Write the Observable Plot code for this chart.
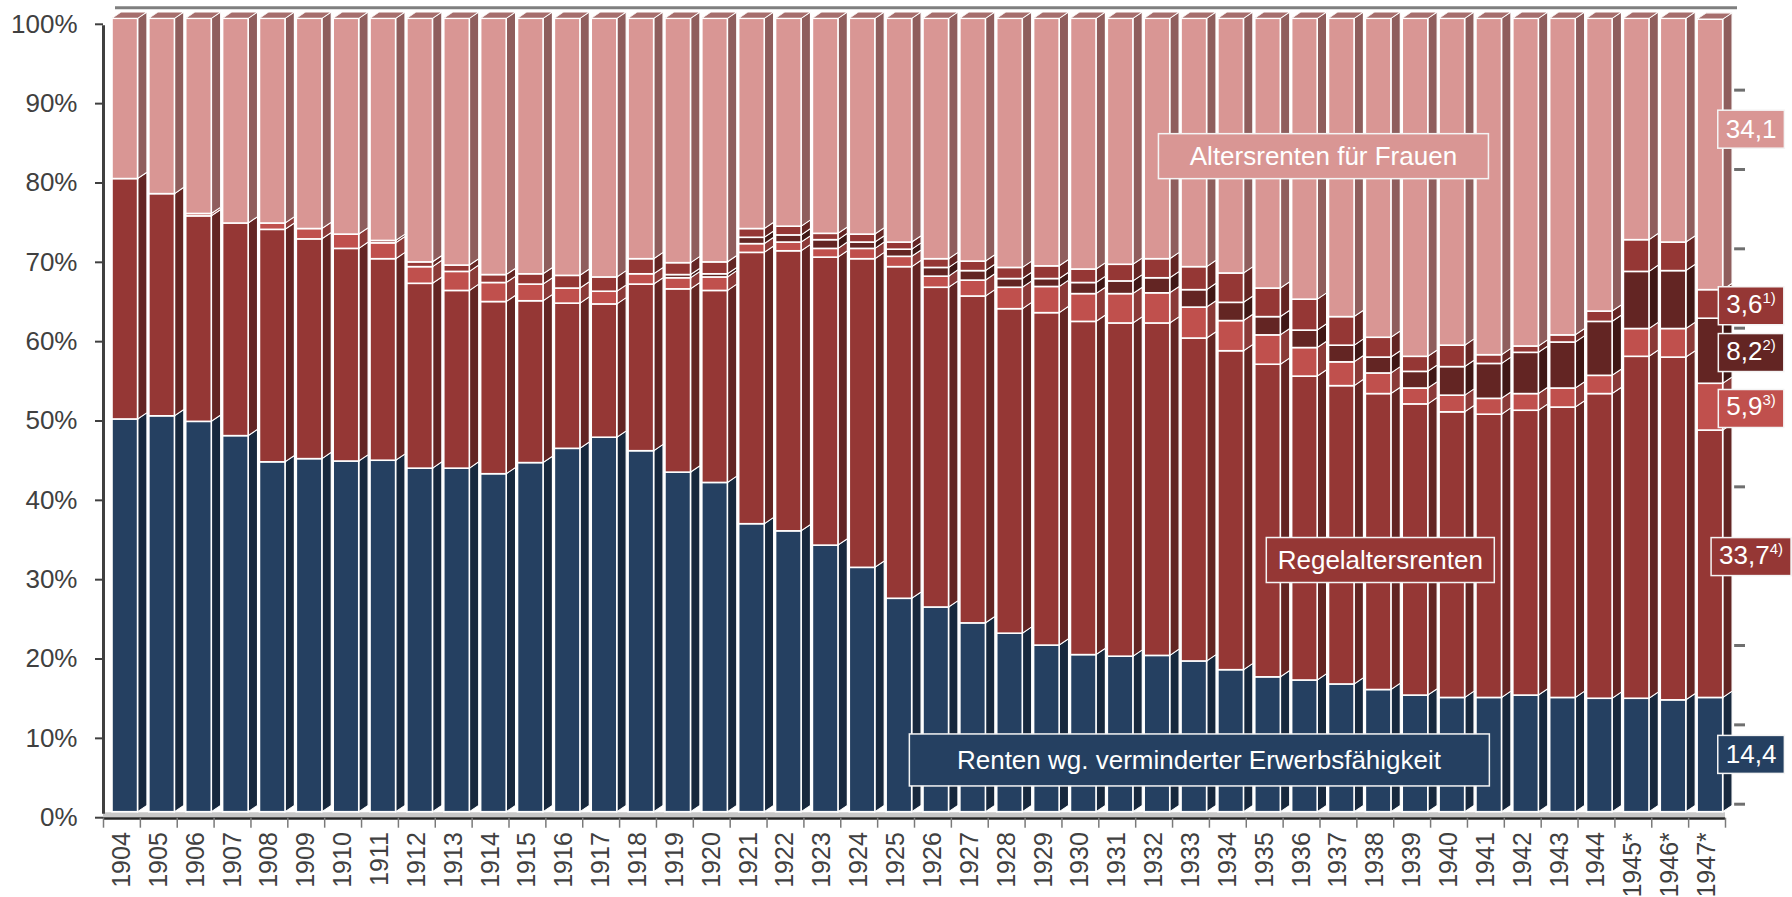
<!DOCTYPE html>
<html>
<head>
<meta charset="utf-8">
<script src="https://cdn.jsdelivr.net/npm/d3@7"></script>
<script src="https://cdn.jsdelivr.net/npm/@observablehq/plot@0.6"></script>
<style>
  body { margin: 0; background: #ffffff; }
  g[aria-description="side"] rect { transform-box: fill-box; transform-origin: 0 0; transform: skewY(-34deg); }
  g[aria-description="top"] rect { transform-box: fill-box; transform-origin: 0 100%; transform: skewX(-56deg); }
</style>
</head>
<body>
<div id="chart"></div>
<script>
// ---- data (shares in %, stacked bottom -> top) ----
const years = ["1904","1905","1906","1907","1908","1909","1910","1911","1912","1913","1914","1915","1916","1917","1918","1919","1920","1921","1922","1923","1924","1925","1926","1927","1928","1929","1930","1931","1932","1933","1934","1935","1936","1937","1938","1939","1940","1941","1942","1943","1944","1945*","1946*","1947*"];
// Renten wg. verminderter Erwerbsfähigkeit
const erwerb = [49.5,49.9,49.2,47.4,44.1,44.5,44.2,44.3,43.3,43.3,42.6,44.0,45.8,47.2,45.5,42.8,41.5,36.3,35.4,33.6,30.8,26.9,25.8,23.8,22.5,21.0,19.8,19.6,19.7,19.0,17.9,17.0,16.6,16.1,15.4,14.7,14.4,14.4,14.7,14.4,14.3,14.3,14.1,14.4];
// Regelaltersrenten
const regel = [30.3,28.0,25.9,26.8,29.3,27.7,26.8,25.4,23.3,22.4,21.7,20.4,18.3,16.8,21.0,23.1,24.2,34.2,35.3,36.3,38.9,41.8,40.3,41.2,40.9,41.9,42.0,42.0,41.9,40.7,40.2,39.4,38.3,37.6,37.3,36.7,36.0,35.7,35.9,36.6,38.4,43.1,43.2,33.7];
// Fußnote 3)
const fn3 = [0,0,0.3,0,0.8,1.3,1.8,2.0,2.1,2.4,2.4,2.1,1.9,1.6,1.3,1.4,1.7,1.1,1.1,1.1,1.3,1.3,1.4,2.0,2.7,3.3,3.5,3.7,3.8,3.9,3.8,3.7,3.6,3.0,2.6,2.0,2.1,2.0,2.1,2.4,2.3,3.5,3.6,5.9];
// Fußnote 2)
const fn2 = [0,0,0,0,0,0,0,0,0,0,0,0,0,0,0,0.4,0.4,0.8,0.9,1.1,0.8,0.9,1.1,1.2,1.1,1.0,1.4,1.6,1.9,2.2,2.3,2.3,2.2,2.1,2.0,2.1,3.6,4.4,5.2,5.8,6.8,7.2,7.3,8.2];
// Fußnote 1)
const fn1 = [0,0,0,0,0,0,0,0.3,0.6,0.8,1.0,1.3,1.6,1.8,1.9,1.5,1.5,1.1,1.1,0.8,1.0,0.9,1.1,1.2,1.4,1.6,1.7,2.1,2.4,2.9,3.7,3.6,3.9,3.6,2.5,1.9,2.7,1.1,0.8,0.9,1.3,4.0,3.6,3.6];
// Altersrenten für Frauen
const frauen = [20.2,22.1,24.6,25.8,25.8,26.5,27.2,28.0,30.7,31.1,32.3,32.2,32.4,32.6,30.3,30.8,30.7,26.5,26.2,27.1,27.2,28.2,30.3,30.6,31.4,31.2,31.6,31.0,30.3,31.3,32.1,34.0,35.4,37.6,40.2,42.6,41.2,42.4,41.3,39.9,36.9,27.9,28.2,34.1];

const yTicks = [0,10,20,30,40,50,60,70,80,90,100];
const seriesKeys = ["erwerb","regel","fn3","fn2","fn1","frauen"];
const seriesValues = {erwerb, regel, fn3, fn2, fn1, frauen};
const seriesNames = {
  erwerb: "Renten wg. verminderter Erwerbsfähigkeit",
  regel: "Regelaltersrenten",
  frauen: "Altersrenten für Frauen"
};
const footnotes = {fn1: "1)", fn2: "2)", fn3: "3)", regel: "4)"};

// ---- styles ----
const frontColors = {erwerb:"#254061", regel:"#953735", fn3:"#c0504d", fn2:"#632523", fn1:"#953735", frauen:"#d99694"};
const sideColors  = {erwerb:"#17283d", regel:"#632523", fn3:"#8a3a38", fn2:"#3f1715", fn1:"#632523", frauen:"#8f5e5d"};

// ---- build stacked table ----
const rows = [];
const totals = [];
years.forEach((yr, i) => {
  let cum = 0;
  for (const k of seriesKeys) {
    const v = seriesValues[k][i];
    if (v > 0) rows.push({year: yr, key: k, y1: cum, y2: cum + v, v});
    cum += v;
  }
  totals.push({year: yr, total: cum});
});

const W = 1792, H = 897;
const mL = 103, mR = 67, mT = 18.3, mB = 85.3;
const bw = (W - mL - mR) / years.length;
const lastYear = years[years.length - 1];
const fmt = v => v.toFixed(1).replace(".", ",");

// right-hand value labels for the last year
const li = years.length - 1;
let cum = 0;
const rightLabels = [];
for (const k of seriesKeys) {
  const v = seriesValues[k][li];
  rightLabels.push({key: k, text: fmt(v), mid: cum + v / 2, sup: footnotes[k] || ""});
  cum += v;
}
const rightDy = {frauen: -25, regel: -9};

// series name labels (annotation anchors)
const nameLabels = [
  {key: "frauen", x: "1937", y: 82.6, dx: -15, w: 330, h: 45},
  {key: "regel",  x: "1938", y: 31.7, dx: 5,   w: 228, h: 45},
  {key: "erwerb", x: "1933", y: 6.5,  dx: 8,   w: 580, h: 52}
];

const labelMarks = [];
const boxSpecs = [];
for (const L of nameLabels) {
  labelMarks.push(Plot.text([L], {x: "x", y: "y", text: d => seriesNames[d.key], dx: L.dx,
    fill: "white", fontSize: 26, ariaDescription: "boxlabel"}));
  boxSpecs.push({bg: frontColors[L.key], w: L.w, h: L.h, sup: ""});
}
for (const R of rightLabels) {
  labelMarks.push(Plot.text([R], {x: () => lastYear, y: "mid", text: "text", dx: 44, dy: rightDy[R.key] || 0,
    fill: "white", fontSize: 26, ariaDescription: "boxlabel"}));
  boxSpecs.push({bg: frontColors[R.key], w: null, h: 38, sup: R.sup});
}

const svg = Plot.plot({
  width: W, height: H,
  marginLeft: mL, marginRight: mR, marginTop: mT, marginBottom: mB,
  style: {fontFamily: "'Liberation Sans', Arial, sans-serif", background: "white", color: "#404040", overflow: "visible"},
  x: {type: "band", domain: years, padding: 0},
  y: {domain: [0, 100]},
  color: {type: "identity"},
  marks: [
    // back wall top edge
    Plot.ruleY([100], {stroke: "#7f7f7f", strokeWidth: 3, dx: 12, dy: -11}),
    // right back-wall ticks
    Plot.tickY(yTicks.slice(0, 10), {x: () => lastYear, y: d => d, stroke: "#6f6f6f", strokeWidth: 3, insetLeft: 26, dx: 20, dy: -8}),
    // floor
    Plot.ruleY([0], {stroke: "#c8c8c8", strokeWidth: 5, dy: 2.5}),
    Plot.ruleY([0], {stroke: "#262626", strokeWidth: 2.6, dy: 6.3}),
    // left axis line
    Plot.ruleX([years[0]], {dx: -bw / 2, y1: 0, y2: 100, insetTop: 2, insetBottom: -7, stroke: "#404040", strokeWidth: 3}),
    // x tick marks at category boundaries
    Plot.ruleX(years, {dx: -bw / 2, y1: 0, y2: 0, insetTop: 6, insetBottom: -16, stroke: "#7a7a7a", strokeWidth: 1.5}),
    Plot.ruleX([lastYear], {dx: bw / 2, y1: 0, y2: 0, insetTop: 6, insetBottom: -16, stroke: "#7a7a7a", strokeWidth: 1.5}),
    // side faces
    Plot.barY(rows, {x: "year", y1: "y1", y2: "y2", fill: d => sideColors[d.key], stroke: "white", strokeWidth: 1.2,
      insetLeft: 34.56, insetRight: -(9.4 - (bw - 34.56)), ariaDescription: "side"}),
    // front faces
    Plot.barY(rows, {x: "year", y1: "y1", y2: "y2", fill: d => frontColors[d.key], stroke: "white", strokeWidth: 1.6,
      insetLeft: 9, insetRight: 2.3, ariaDescription: "front"}),
    // top faces
    Plot.barY(totals, {x: "year", y1: "total", y2: "total", fill: "#a66e6d", stroke: "white", strokeWidth: 1.2,
      insetLeft: 9, insetRight: 2.3, insetTop: -6.3, ariaDescription: "top"}),
    // axes
    Plot.axisY({ticks: yTicks, tickFormat: d => d + "%", tickSize: 8, tickPadding: 18, fontSize: 26, dy: 5.5,
      strokeWidth: 2, color: "#404040", label: null}),
    Plot.axisX({tickRotate: -90, tickSize: 0, tickPadding: 20, fontSize: 25, color: "#404040", label: null}),
    ...labelMarks
  ]
});

document.getElementById("chart").appendChild(svg);

// boxes behind labels + footnote superscripts
const NS = "http://www.w3.org/2000/svg";
const texts = svg.querySelectorAll('g[aria-description="boxlabel"] text');
texts.forEach((t, i) => {
  const spec = boxSpecs[i];
  if (!spec) return;
  if (spec.sup) {
    const ts = document.createElementNS(NS, "tspan");
    ts.setAttribute("font-size", "15");
    ts.setAttribute("dy", "-10");
    ts.textContent = spec.sup;
    t.appendChild(ts);
  }
  const bb = t.getBBox();
  const w = spec.w || (bb.width + 16);
  const h = spec.h;
  const cx = bb.x + bb.width / 2;
  const cy = bb.y + bb.height / 2 + (spec.sup ? 2 : 0);
  const r = document.createElementNS(NS, "rect");
  r.setAttribute("x", cx - w / 2);
  r.setAttribute("y", cy - h / 2);
  r.setAttribute("width", w);
  r.setAttribute("height", h);
  r.setAttribute("fill", spec.bg);
  r.setAttribute("stroke", "#f4f4f4");
  r.setAttribute("stroke-width", "1.5");
  const tr = t.getAttribute("transform");
  if (tr) r.setAttribute("transform", tr);
  t.parentNode.insertBefore(r, t);
});
</script>
</body>
</html>
